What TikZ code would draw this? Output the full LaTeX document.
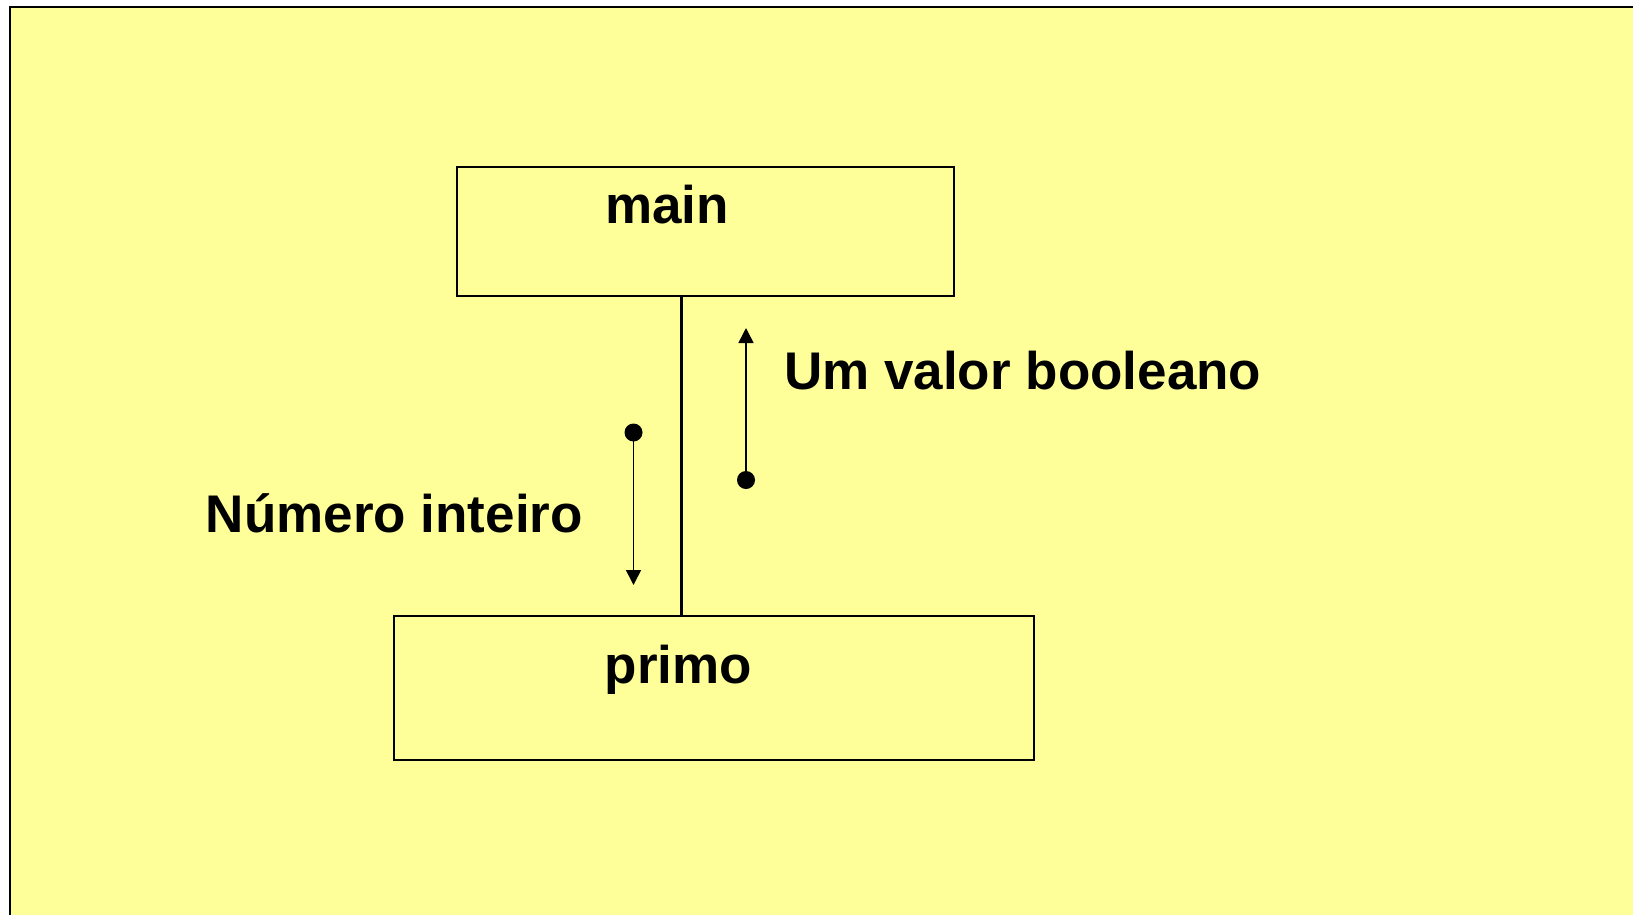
\documentclass[tikz,border=0pt]{standalone}
\usepackage{fontspec}
\setmainfont{Liberation Sans}
\usetikzlibrary{arrows.meta}
\definecolor{paper}{HTML}{FFFF99}
\tikzset{
  modbox/.style={draw=black, line width=2pt, rectangle, inner sep=0pt},
  lbl/.style={font=\fontsize{53}{64}\selectfont\bfseries, inner sep=0pt},
  flow/.style={line width=1.6pt, -{Triangle[width=15pt,length=15pt]}},
  dot/.style={circle, fill=black, minimum size=18pt, inner sep=0pt},
}
\begin{document}
\begin{tikzpicture}[x=1pt,y=-1pt]
  % page and slide background
  \useasboundingbox (0,0) rectangle (1633,914);
  \fill[white] (0,0) rectangle (1633,914);
  \begin{scope}
    \clip (0,0) rectangle (1633,914);
    \filldraw[fill=paper, draw=black, line width=2.5pt] (10,7) rectangle (1650,930);
  \end{scope}

  % module boxes
  \node[modbox, minimum width=497pt, minimum height=129pt] (main) at (705.5,231.5) {};
  \node[modbox, minimum width=640pt, minimum height=144pt] (primo) at (714,688) {};
  \node[lbl, anchor=base] (mainlbl) at (667,223) {main};
  \node[lbl, anchor=base] (primolbl) at (678.5,683) {primo};

  % call link between the modules
  \coordinate (link) at (681,0);
  \draw[line width=3pt] (main.south -| link) -- (primo.north -| link);

  % data passed down: integer
  \node[dot] (din) at (633.5,432.5) {};
  \coordinate (tin) at (633.5,585);
  \draw[flow] (din.center) -- (tin);
  \node[lbl, anchor=base east] (inlbl) at (583,532) {Número inteiro};

  % result passed up: boolean
  \node[dot] (dout) at (746,480) {};
  \coordinate (tout) at (746,328);
  \draw[flow] (dout.center) -- (tout);
  \node[lbl, anchor=base west] (outlbl) at (784,389) {Um valor booleano};
\end{tikzpicture}
\end{document}
